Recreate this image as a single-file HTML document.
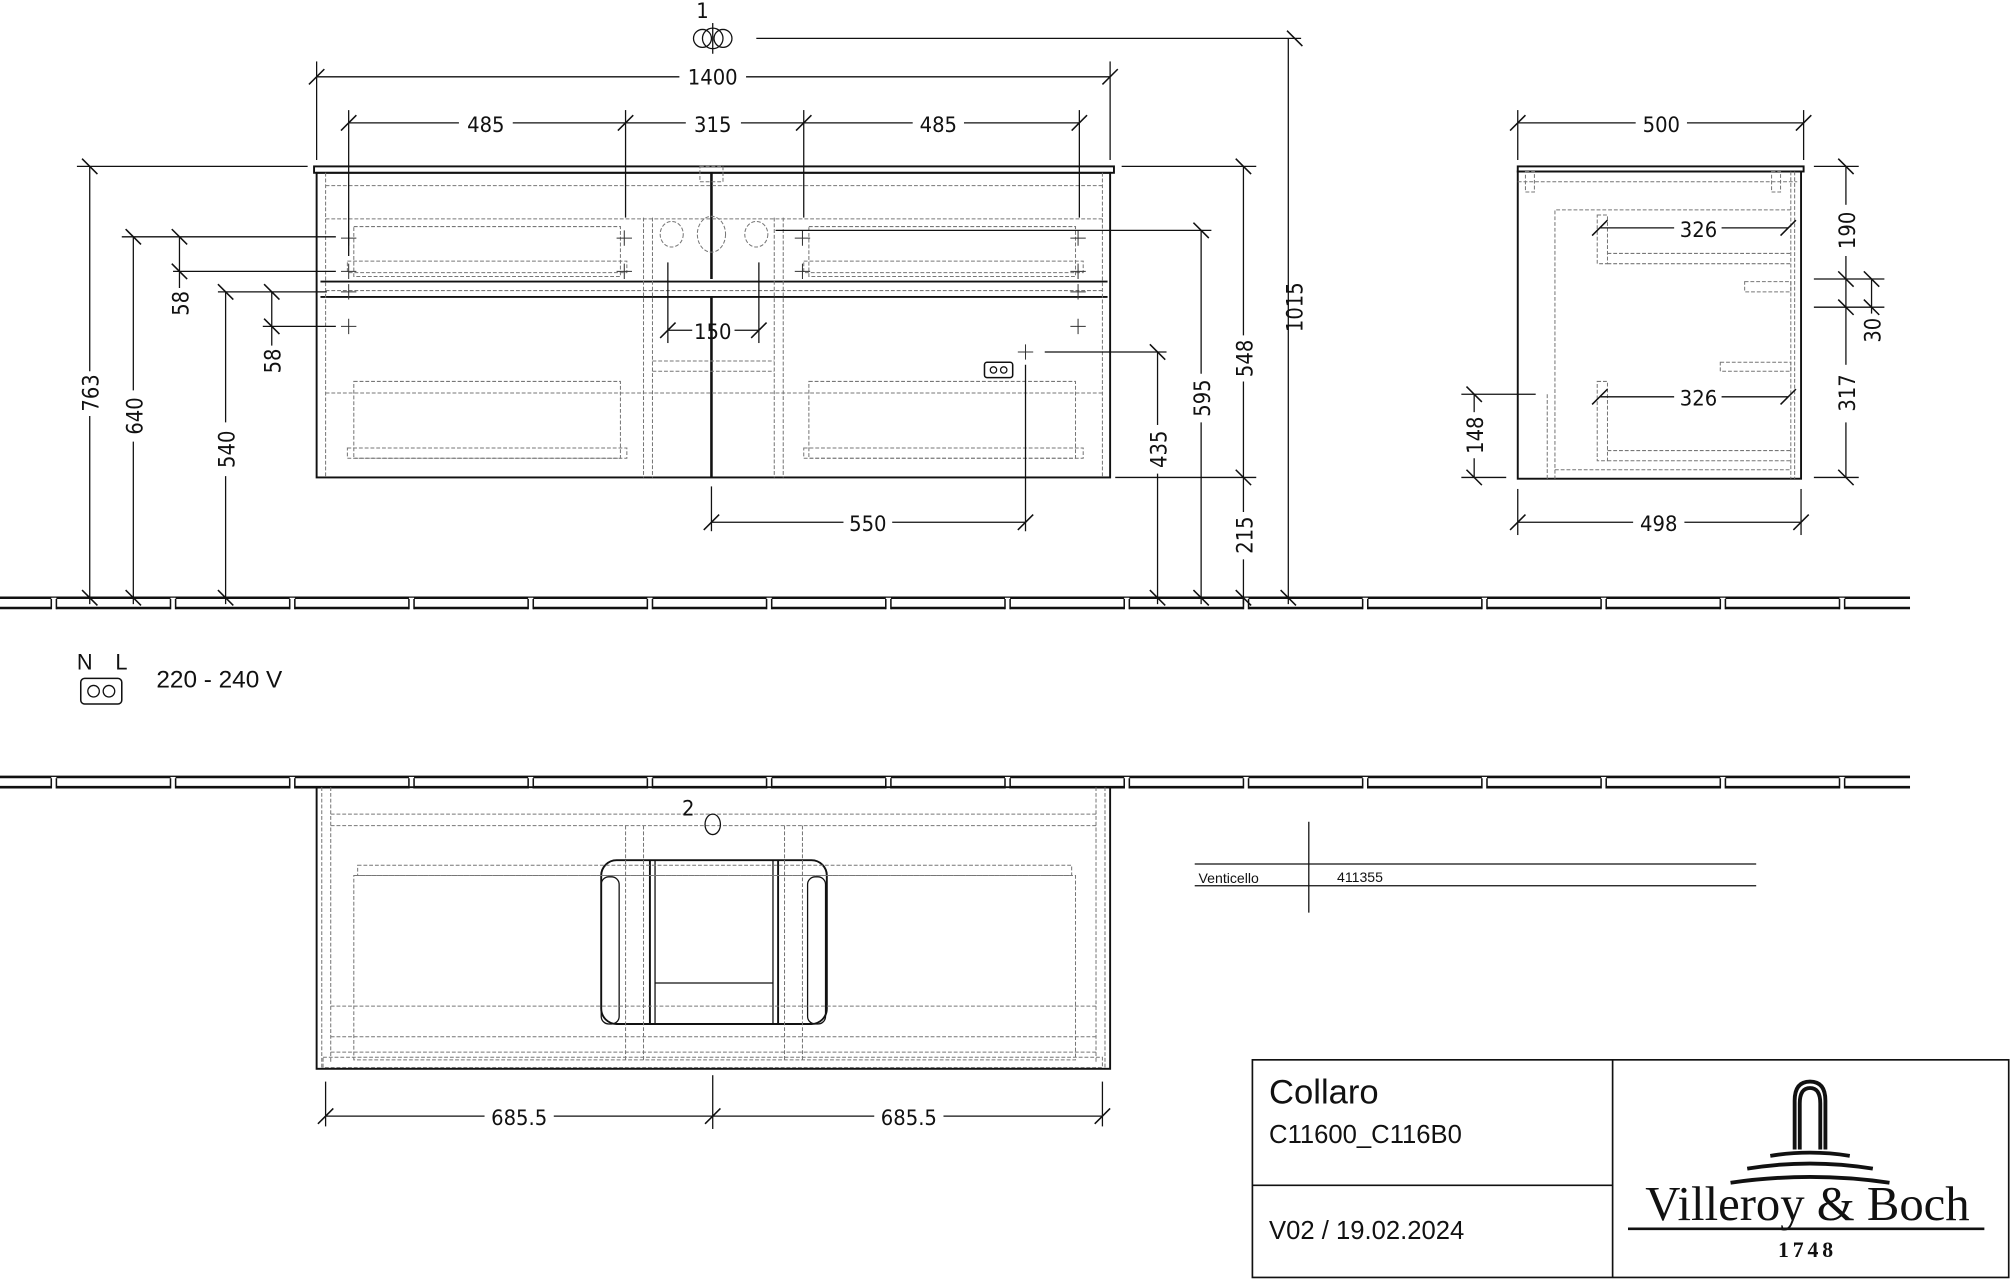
<!DOCTYPE html>
<html><head><meta charset="utf-8"><style>
html,body{margin:0;padding:0;background:#fff;}
svg{display:block}
text{font-family:"DejaVu Sans Condensed","Liberation Sans Narrow","Liberation Sans",sans-serif;fill:#111}
.d{font-size:17px}
.a{font-family:"Liberation Sans",sans-serif}
.s{font-family:"Liberation Serif",serif}
</style></head><body>
<svg width="2010" height="1280" viewBox="0 0 1568 1000" preserveAspectRatio="none" xmlns="http://www.w3.org/2000/svg">
<defs>
<line id="t" x1="-6" y1="6" x2="6" y2="-6" stroke="#111" stroke-width="1.2"/>
<line id="tv" x1="-6" y1="-6" x2="6" y2="6" stroke="#111" stroke-width="1.2"/>
<g id="gp"><rect x="-2" y="-1" width="4" height="10" fill="#fff"/><path d="M-2 0V8M2 0V8" stroke="#111" stroke-width="1.2"/></g>
</defs>
<rect width="1568" height="1000" fill="#fff"/>

<!-- floor lines -->
<g stroke="#111" stroke-width="2" fill="none">
<line x1="0" y1="467" x2="1490" y2="467"/><line x1="0" y1="475" x2="1490" y2="475"/>
<line x1="0" y1="607" x2="1490" y2="607"/><line x1="0" y1="615" x2="1490" y2="615"/>
</g>
<g>
<use href="#gp" x="42" y="468"/><use href="#gp" x="135" y="468"/><use href="#gp" x="228" y="468"/><use href="#gp" x="321" y="468"/><use href="#gp" x="414" y="468"/><use href="#gp" x="507" y="468"/><use href="#gp" x="600" y="468"/><use href="#gp" x="693" y="468"/><use href="#gp" x="786" y="468"/><use href="#gp" x="879" y="468"/><use href="#gp" x="972" y="468"/><use href="#gp" x="1065" y="468"/><use href="#gp" x="1158" y="468"/><use href="#gp" x="1251" y="468"/><use href="#gp" x="1344" y="468"/><use href="#gp" x="1437" y="468"/>
<use href="#gp" x="42" y="608"/><use href="#gp" x="135" y="608"/><use href="#gp" x="228" y="608"/><use href="#gp" x="321" y="608"/><use href="#gp" x="414" y="608"/><use href="#gp" x="507" y="608"/><use href="#gp" x="600" y="608"/><use href="#gp" x="693" y="608"/><use href="#gp" x="786" y="608"/><use href="#gp" x="879" y="608"/><use href="#gp" x="972" y="608"/><use href="#gp" x="1065" y="608"/><use href="#gp" x="1158" y="608"/><use href="#gp" x="1251" y="608"/><use href="#gp" x="1344" y="608"/><use href="#gp" x="1437" y="608"/>
</g>

<!-- front cabinet -->
<g fill="none" stroke="#111" stroke-width="1.5">
<rect x="245" y="130" width="624" height="5"/>
<rect x="247" y="135" width="619" height="238"/>
<line x1="250" y1="220" x2="864" y2="220"/>
<line x1="250" y1="232" x2="864" y2="232"/>
<line x1="555" y1="135" x2="555" y2="218" stroke-width="2"/>
<line x1="555" y1="232" x2="555" y2="373" stroke-width="2"/>
</g>
<g fill="none" stroke="#777" stroke-width="0.8" stroke-dasharray="3,1.5">
<line x1="254" y1="145" x2="860" y2="145"/>
<line x1="254" y1="171" x2="860" y2="171"/>
<line x1="254" y1="135" x2="254" y2="373"/><line x1="860" y1="135" x2="860" y2="373"/>
<rect x="276" y="177" width="208" height="39"/><rect x="271" y="204" width="218" height="9"/>
<rect x="631" y="177" width="208" height="39"/><rect x="627" y="204" width="218" height="9"/>
<line x1="502" y1="170" x2="502" y2="373"/><line x1="509" y1="170" x2="509" y2="373"/>
<line x1="604" y1="170" x2="604" y2="373"/><line x1="611" y1="170" x2="611" y2="373"/>
<line x1="254" y1="227" x2="860" y2="227"/>
<line x1="509" y1="282" x2="604" y2="282"/><line x1="509" y1="290" x2="604" y2="290"/>
<line x1="254" y1="307" x2="860" y2="307"/>
<rect x="276" y="298" width="208" height="60"/><rect x="271" y="350" width="218" height="8"/>
<rect x="631" y="298" width="208" height="60"/><rect x="627" y="350" width="218" height="8"/>
<rect x="546" y="130" width="18" height="12"/>
<ellipse cx="524" cy="183" rx="9" ry="10"/><ellipse cx="555" cy="183" rx="11" ry="14"/><ellipse cx="590" cy="183" rx="9" ry="10"/>
</g>
<g stroke="#333" stroke-width="0.8">
<path d="M266 186h12M272 180v12M266 212h12M272 206v12M481 186h12M487 180v12M481 212h12M487 206v12M620 186h12M626 180v12M620 212h12M626 206v12M835 186h12M841 180v12M835 212h12M841 206v12M266 228h12M272 222v12M266 255h12M272 249v12M835 228h12M841 222v12M835 255h12M841 249v12M794 275h12M800 269v12"/>
</g>
<rect x="768" y="283" width="22" height="12" rx="2" fill="none" stroke="#111" stroke-width="1.2"/>
<circle cx="775" cy="289" r="2.5" fill="none" stroke="#111"/><circle cx="783" cy="289" r="2.5" fill="none" stroke="#111"/>

<!-- dimension lines -->
<g stroke="#111" stroke-width="1" fill="none">
<line x1="590" y1="30" x2="1015" y2="30"/>
<line x1="1005" y1="30" x2="1005" y2="472"/>
<line x1="247" y1="48" x2="247" y2="125"/><line x1="866" y1="48" x2="866" y2="125"/>
<line x1="247" y1="60" x2="530" y2="60"/><line x1="582" y1="60" x2="866" y2="60"/>
<line x1="272" y1="86" x2="272" y2="200"/><line x1="488" y1="86" x2="488" y2="170"/><line x1="627" y1="86" x2="627" y2="170"/><line x1="842" y1="86" x2="842" y2="170"/>
<line x1="272" y1="96" x2="358" y2="96"/><line x1="400" y1="96" x2="488" y2="96"/>
<line x1="488" y1="96" x2="535" y2="96"/><line x1="578" y1="96" x2="627" y2="96"/>
<line x1="627" y1="96" x2="712" y2="96"/><line x1="752" y1="96" x2="842" y2="96"/>
<line x1="875" y1="130" x2="980" y2="130"/>
<line x1="970" y1="130" x2="970" y2="262"/><line x1="970" y1="298" x2="970" y2="400"/><line x1="970" y1="437" x2="970" y2="472"/>
<line x1="870" y1="373" x2="980" y2="373"/>
<line x1="605" y1="180" x2="945" y2="180"/>
<line x1="937" y1="180" x2="937" y2="292"/><line x1="937" y1="330" x2="937" y2="472"/>
<line x1="815" y1="275" x2="910" y2="275"/>
<line x1="903" y1="275" x2="903" y2="332"/><line x1="903" y1="370" x2="903" y2="472"/>
<line x1="800" y1="285" x2="800" y2="415"/>
<line x1="555" y1="380" x2="555" y2="415"/>
<line x1="555" y1="408" x2="658" y2="408"/><line x1="696" y1="408" x2="800" y2="408"/>
<line x1="521" y1="205" x2="521" y2="268"/><line x1="592" y1="205" x2="592" y2="268"/>
<line x1="521" y1="258" x2="540" y2="258"/><line x1="573" y1="258" x2="592" y2="258"/>
<line x1="60" y1="130" x2="240" y2="130"/>
<line x1="70" y1="130" x2="70" y2="290"/><line x1="70" y1="325" x2="70" y2="472"/>
<line x1="95" y1="185" x2="262" y2="185"/>
<line x1="104" y1="185" x2="104" y2="305"/><line x1="104" y1="345" x2="104" y2="472"/>
<line x1="135" y1="212" x2="262" y2="212"/>
<line x1="140" y1="185" x2="140" y2="225"/>
<line x1="170" y1="228" x2="255" y2="228"/>
<line x1="176" y1="228" x2="176" y2="330"/><line x1="176" y1="372" x2="176" y2="472"/>
<line x1="205" y1="255" x2="262" y2="255"/>
<line x1="212" y1="228" x2="212" y2="270"/>
</g>
<g>
<use href="#t" x="247" y="60"/><use href="#t" x="866" y="60"/>
<use href="#t" x="272" y="96"/><use href="#t" x="488" y="96"/><use href="#t" x="627" y="96"/><use href="#t" x="842" y="96"/>
<use href="#tv" x="1010" y="30"/><use href="#tv" x="1005" y="467"/>
<use href="#tv" x="970" y="130"/><use href="#tv" x="970" y="373"/><use href="#tv" x="970" y="467"/>
<use href="#tv" x="937" y="180"/><use href="#tv" x="937" y="467"/>
<use href="#tv" x="903" y="275"/><use href="#tv" x="903" y="467"/>
<use href="#t" x="555" y="408"/><use href="#t" x="800" y="408"/>
<use href="#t" x="521" y="258"/><use href="#t" x="592" y="258"/>
<use href="#tv" x="70" y="130"/><use href="#tv" x="70" y="467"/>
<use href="#tv" x="104" y="185"/><use href="#tv" x="104" y="467"/>
<use href="#tv" x="140" y="185"/><use href="#tv" x="140" y="212"/>
<use href="#tv" x="176" y="228"/><use href="#tv" x="176" y="467"/>
<use href="#tv" x="212" y="228"/><use href="#tv" x="212" y="255"/>
</g>
<g fill="none" stroke="#111" stroke-width="1">
<circle cx="548" cy="30" r="7"/><circle cx="564" cy="30" r="7"/><circle cx="556" cy="30" r="8"/>
<line x1="556" y1="18" x2="556" y2="42"/>
</g>
<text x="548" y="14" class="d" text-anchor="middle">1</text>
<text x="556" y="66" class="d" text-anchor="middle">1400</text>
<text x="379" y="103" class="d" text-anchor="middle">485</text>
<text x="556" y="103" class="d" text-anchor="middle">315</text>
<text x="732" y="103" class="d" text-anchor="middle">485</text>
<text x="556" y="265" class="d" text-anchor="middle">150</text>
<text x="677" y="415" class="d" text-anchor="middle">550</text>
<text transform="translate(1016,240) rotate(-90)" class="d" text-anchor="middle">1015</text>
<text transform="translate(977,280) rotate(-90)" class="d" text-anchor="middle">548</text>
<text transform="translate(977,418) rotate(-90)" class="d" text-anchor="middle">215</text>
<text transform="translate(944,311) rotate(-90)" class="d" text-anchor="middle">595</text>
<text transform="translate(910,351) rotate(-90)" class="d" text-anchor="middle">435</text>
<text transform="translate(77,307) rotate(-90)" class="d" text-anchor="middle">763</text>
<text transform="translate(111,325) rotate(-90)" class="d" text-anchor="middle">640</text>
<text transform="translate(147,237) rotate(-90)" class="d" text-anchor="middle">58</text>
<text transform="translate(183,351) rotate(-90)" class="d" text-anchor="middle">540</text>
<text transform="translate(219,282) rotate(-90)" class="d" text-anchor="middle">58</text>

<!-- side view -->
<g fill="none" stroke="#111" stroke-width="1.5">
<rect x="1184" y="130" width="223" height="4"/>
<rect x="1184" y="134" width="221" height="240"/>
</g>
<g fill="none" stroke="#777" stroke-width="0.8" stroke-dasharray="3,1.5">
<line x1="1184" y1="142" x2="1402" y2="142"/>
<rect x="1190" y="134" width="7" height="16"/><rect x="1382" y="134" width="7" height="16"/>
<polyline points="1397,134 1397,374"/><polyline points="1400,134 1400,374"/>
<polyline points="1397,164 1213,164 1213,374"/>
<rect x="1246" y="168" width="8" height="38"/><line x1="1254" y1="198" x2="1397" y2="198"/><line x1="1254" y1="206" x2="1397" y2="206"/>
<rect x="1246" y="298" width="8" height="62"/><line x1="1254" y1="352" x2="1397" y2="352"/><line x1="1254" y1="360" x2="1397" y2="360"/>
<rect x="1361" y="220" width="36" height="8"/>
<rect x="1342" y="283" width="55" height="7"/>
<line x1="1207" y1="308" x2="1207" y2="374"/>
<line x1="1213" y1="367" x2="1397" y2="367"/>
</g>
<g stroke="#111" stroke-width="1" fill="none">
<line x1="1184" y1="86" x2="1184" y2="125"/><line x1="1407" y1="86" x2="1407" y2="125"/>
<line x1="1184" y1="96" x2="1276" y2="96"/><line x1="1316" y1="96" x2="1407" y2="96"/>
<line x1="1184" y1="382" x2="1184" y2="418"/><line x1="1405" y1="382" x2="1405" y2="418"/>
<line x1="1184" y1="408" x2="1274" y2="408"/><line x1="1314" y1="408" x2="1405" y2="408"/>
<line x1="1248" y1="178" x2="1306" y2="178"/><line x1="1343" y1="178" x2="1395" y2="178"/>
<line x1="1248" y1="310" x2="1306" y2="310"/><line x1="1343" y1="310" x2="1395" y2="310"/>
<line x1="1415" y1="130" x2="1450" y2="130"/><line x1="1415" y1="373" x2="1450" y2="373"/>
<line x1="1415" y1="218" x2="1470" y2="218"/><line x1="1415" y1="240" x2="1470" y2="240"/>
<line x1="1440" y1="130" x2="1440" y2="160"/><line x1="1440" y1="200" x2="1440" y2="285"/><line x1="1440" y1="330" x2="1440" y2="373"/>
<line x1="1460" y1="218" x2="1460" y2="245"/>
<line x1="1140" y1="308" x2="1198" y2="308"/><line x1="1140" y1="373" x2="1175" y2="373"/>
<line x1="1150" y1="308" x2="1150" y2="322"/><line x1="1150" y1="358" x2="1150" y2="373"/>
</g>
<g>
<use href="#t" x="1184" y="96"/><use href="#t" x="1407" y="96"/>
<use href="#t" x="1184" y="408"/><use href="#t" x="1405" y="408"/>
<use href="#t" x="1248" y="178"/><use href="#t" x="1395" y="178"/>
<use href="#t" x="1248" y="310"/><use href="#t" x="1395" y="310"/>
<use href="#tv" x="1440" y="130"/><use href="#tv" x="1440" y="218"/><use href="#tv" x="1440" y="240"/><use href="#tv" x="1440" y="373"/>
<use href="#tv" x="1460" y="218"/><use href="#tv" x="1460" y="240"/>
<use href="#tv" x="1150" y="308"/><use href="#tv" x="1150" y="373"/>
</g>
<text x="1296" y="103" class="d" text-anchor="middle">500</text>
<text x="1294" y="415" class="d" text-anchor="middle">498</text>
<text x="1325" y="185" class="d" text-anchor="middle">326</text>
<text x="1325" y="317" class="d" text-anchor="middle">326</text>
<text transform="translate(1447,180) rotate(-90)" class="d" text-anchor="middle">190</text>
<text transform="translate(1467,258) rotate(-90)" class="d" text-anchor="middle">30</text>
<text transform="translate(1447,307) rotate(-90)" class="d" text-anchor="middle">317</text>
<text transform="translate(1157,340) rotate(-90)" class="d" text-anchor="middle">148</text>

<text x="60" y="523" class="a" font-size="17">N</text>
<text x="90" y="523" class="a" font-size="17">L</text>
<rect x="63" y="530" width="32" height="20" rx="3" fill="none" stroke="#111" stroke-width="1.2"/>
<circle cx="73" cy="540" r="4.5" fill="none" stroke="#111"/><circle cx="85" cy="540" r="4.5" fill="none" stroke="#111"/>
<text x="122" y="537" class="a" font-size="19">220 - 240 V</text>

<!-- plan view -->
<g fill="none" stroke="#111" stroke-width="1.5">
<rect x="247" y="615" width="619" height="220"/>
<rect x="469" y="672" width="176" height="128" rx="12"/>
<rect x="469" y="685" width="14" height="115" rx="6" stroke-width="1"/>
<rect x="630" y="685" width="14" height="115" rx="6" stroke-width="1"/>
<line x1="507" y1="672" x2="507" y2="800"/><line x1="607" y1="672" x2="607" y2="800"/>
<line x1="511" y1="672" x2="511" y2="800" stroke-width="1"/><line x1="603" y1="672" x2="603" y2="800" stroke-width="1"/>
<line x1="511" y1="768" x2="603" y2="768" stroke-width="1"/>
</g>
<g fill="none" stroke="#777" stroke-width="0.8" stroke-dasharray="3,1.5">
<line x1="251" y1="615" x2="251" y2="835"/><line x1="862" y1="615" x2="862" y2="835"/>
<line x1="258" y1="615" x2="258" y2="830"/><line x1="855" y1="615" x2="855" y2="830"/>
<line x1="258" y1="636" x2="855" y2="636"/><line x1="258" y1="645" x2="855" y2="645"/>
<rect x="279" y="676" width="557" height="8"/><rect x="276" y="684" width="563" height="144"/>
<line x1="258" y1="786" x2="855" y2="786"/><line x1="258" y1="810" x2="855" y2="810"/><line x1="258" y1="822" x2="855" y2="822"/>
<rect x="252" y="826" width="608" height="8"/>
<line x1="488" y1="645" x2="488" y2="828"/><line x1="502" y1="645" x2="502" y2="828"/><line x1="612" y1="645" x2="612" y2="828"/><line x1="626" y1="645" x2="626" y2="828"/>
</g>
<ellipse cx="556" cy="644" rx="6" ry="8" fill="none" stroke="#111"/>
<text x="532" y="637" class="d" font-size="15">2</text>
<g stroke="#111" stroke-width="1">
<line x1="254" y1="845" x2="254" y2="880"/><line x1="860" y1="845" x2="860" y2="880"/><line x1="556" y1="840" x2="556" y2="882"/>
<line x1="254" y1="872" x2="378" y2="872"/><line x1="432" y1="872" x2="556" y2="872"/>
<line x1="556" y1="872" x2="682" y2="872"/><line x1="736" y1="872" x2="860" y2="872"/>
</g>
<use href="#t" x="254" y="872"/><use href="#t" x="556" y="872"/><use href="#t" x="860" y="872"/>
<text x="405" y="879" class="d" text-anchor="middle">685.5</text>
<text x="709" y="879" class="d" text-anchor="middle">685.5</text>

<g stroke="#111" stroke-width="1">
<line x1="932" y1="675" x2="1370" y2="675"/><line x1="932" y1="692" x2="1370" y2="692"/>
<line x1="1021" y1="642" x2="1021" y2="713"/>
</g>
<text x="935" y="690" class="a" font-size="11">Venticello</text>
<text x="1043" y="689" class="a" font-size="11">411355</text>

<!-- title block -->
<g fill="none" stroke="#111" stroke-width="1.3">
<rect x="977" y="828" width="590" height="170"/>
<line x1="1258" y1="828" x2="1258" y2="998"/>
<line x1="977" y1="926" x2="1258" y2="926"/>
</g>
<text x="990" y="862" class="a" font-size="27">Collaro</text>
<text x="990" y="893" class="a" font-size="20">C11600_C116B0</text>
<text x="990" y="968" class="a" font-size="20">V02 / 19.02.2024</text>
<path d="M1400 898 V860 Q1400 845 1412 845 Q1424 845 1424 860 V898 M1404 898 V862 Q1404 850 1412 850 Q1420 850 1420 862 V898" fill="none" stroke="#111" stroke-width="3"/>
<path d="M1381 903 Q1412 898 1443 903" fill="none" stroke="#111" stroke-width="3"/>
<path d="M1363 913 Q1412 905 1461 913" fill="none" stroke="#111" stroke-width="3"/>
<path d="M1350 924 Q1412 915 1474 924" fill="none" stroke="#111" stroke-width="3"/>
<text x="1410" y="953" class="s" font-size="38" text-anchor="middle">Villeroy &amp; Boch</text>
<line x1="1270" y1="960" x2="1548" y2="960" stroke="#111" stroke-width="2"/>
<text x="1410" y="982" class="s" font-size="17" font-weight="bold" letter-spacing="3" text-anchor="middle">1748</text>
</svg>
</body></html>
